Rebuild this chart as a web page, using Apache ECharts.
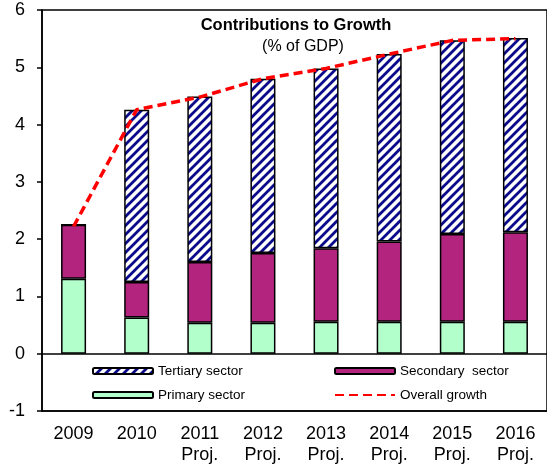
<!DOCTYPE html>
<html>
<head>
<meta charset="utf-8">
<script src="https://cdn.jsdelivr.net/npm/echarts@6/dist/echarts.min.js"></script>
<style>
html,body{margin:0;padding:0;background:#fff;}
#chart{width:547px;height:471px;}
</style>
</head>
<body>
<div id="chart"></div>
<script>
var categories = ['2009', '2010', '2011\nProj.', '2012\nProj.', '2013\nProj.', '2014\nProj.', '2015\nProj.', '2016\nProj.'];
var primarySector = [1.31, 0.63, 0.54, 0.54, 0.56, 0.56, 0.56, 0.56];
var secondarySector = [0.94, 0.62, 1.06, 1.22, 1.28, 1.40, 1.53, 1.56];
var tertiarySector = [0, 3.01, 2.89, 3.04, 3.14, 3.27, 3.38, 3.39];
var overallGrowth = [2.22, 4.26, 4.48, 4.80, 4.98, 5.23, 5.47, 5.50];
var yTicks = { min: -1, max: 6, interval: 1 };

function makeHatch() {
  var s = 9;
  var c = document.createElement('canvas');
  c.width = s; c.height = s;
  var ctx = c.getContext('2d');
  ctx.fillStyle = '#ffffff';
  ctx.fillRect(0, 0, s, s);
  ctx.strokeStyle = '#0a0a8a';
  ctx.lineWidth = 2.8;
  ctx.lineCap = 'square';
  ctx.beginPath();
  ctx.moveTo(-2, s + 2); ctx.lineTo(s + 2, -2);
  ctx.moveTo(-2, 2); ctx.lineTo(2, -2);
  ctx.moveTo(s - 2, s + 2); ctx.lineTo(s + 2, s - 2);
  ctx.stroke();
  return c;
}
var hatch = { image: makeHatch(), repeat: 'repeat' };

var chart = echarts.init(document.getElementById('chart'), null, { renderer: 'canvas' });
var font = 'Liberation Sans, Arial, sans-serif';
var legendText = { fontFamily: font, fontSize: 13.5, color: '#000' };
function legendAt(item, left, top) {
  return {
    data: [item], left: left, top: top, itemWidth: 60, itemHeight: 6,
    textStyle: legendText, selectedMode: false, padding: 0
  };
}

chart.setOption({
  animation: false,
  backgroundColor: '#fff',
  textStyle: { fontFamily: font },
  grid: { left: 42, top: 10, width: 509, height: 401, show: true, borderColor: '#000', borderWidth: 1.5, backgroundColor: 'transparent' },
  graphic: [
    { type: 'text', x: 296, y: 25, style: { text: 'Contributions to Growth', x: 0, y: 0, textAlign: 'center', textVerticalAlign: 'middle', font: 'bold 16.5px Liberation Sans, Arial, sans-serif', fill: '#000' }, z: 10 },
    { type: 'text', x: 303, y: 47, style: { text: '(% of GDP)', x: 0, y: 0, textAlign: 'center', textVerticalAlign: 'middle', font: '16px Liberation Sans, Arial, sans-serif', fill: '#000' }, z: 10 }
  ],
  legend: [
    legendAt('Tertiary sector', 92, 364),
    legendAt('Secondary  sector', 334, 364),
    legendAt('Primary sector', 92, 388),
    legendAt({ name: 'Overall growth', itemStyle: { opacity: 0 } }, 334, 388)
  ],
  xAxis: {
    type: 'category', data: categories,
    axisLine: { show: true, onZero: false, lineStyle: { color: '#000', width: 1.5 } },
    axisTick: { show: false },
    axisLabel: { fontSize: 18, color: '#000', lineHeight: 21, margin: 13, interval: 0, fontFamily: font },
    splitLine: { show: false }
  },
  yAxis: {
    type: 'value', min: yTicks.min, max: yTicks.max, interval: yTicks.interval,
    axisLine: { show: true, lineStyle: { color: '#000', width: 1.5 } },
    axisTick: { show: true, inside: false, length: 5, lineStyle: { color: '#000', width: 1.5 } },
    axisLabel: { fontSize: 18, color: '#000', margin: 17, fontFamily: font },
    splitLine: { show: false }
  },
  series: [
    {
      name: 'Primary sector', type: 'bar', stack: 'a', barWidth: 25, data: primarySector,
      itemStyle: { color: '#b3ffcc', borderColor: '#000', borderWidth: 1.5 },
      markLine: { silent: true, symbol: 'none', label: { show: false }, lineStyle: { color: '#000', width: 1.5, type: 'solid' }, data: [{ yAxis: 0 }] }
    },
    {
      name: 'Secondary  sector', type: 'bar', stack: 'a', barWidth: 25, data: secondarySector,
      itemStyle: { color: '#b3247f', borderColor: '#000', borderWidth: 1.5 }
    },
    {
      name: 'Tertiary sector', type: 'bar', stack: 'a', barWidth: 25, data: tertiarySector,
      itemStyle: { color: hatch, borderColor: '#000', borderWidth: 1.5 }
    },
    {
      name: 'Overall growth', type: 'line', data: overallGrowth, symbol: 'none', z: 5,
      itemStyle: { color: '#ff0000' },
      lineStyle: { color: '#ff0000', width: 3.5, type: [9, 5] }
    }
  ]
});
</script>
</body>
</html>
